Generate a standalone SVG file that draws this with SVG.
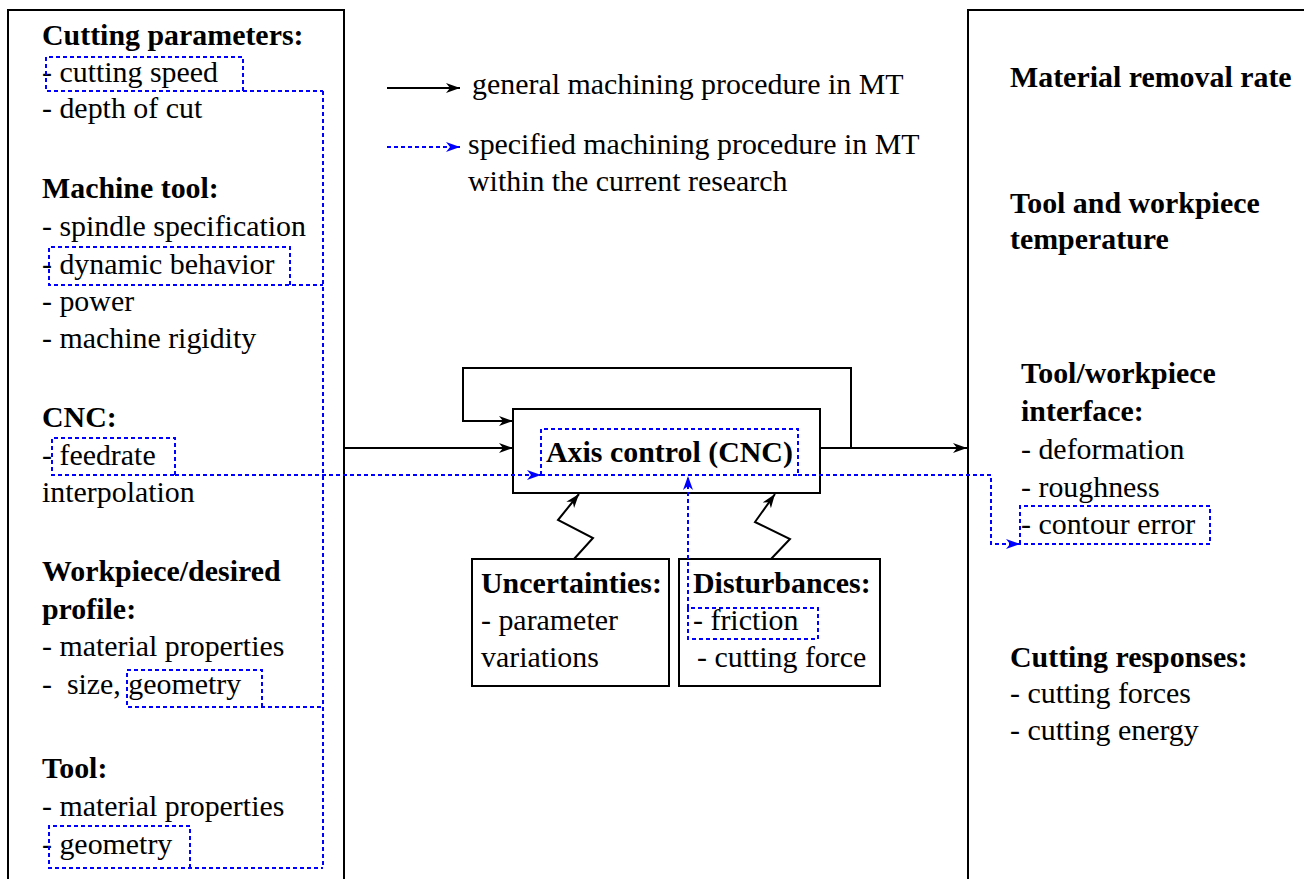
<svg xmlns="http://www.w3.org/2000/svg" width="1304" height="879" viewBox="0 0 1304 879">
<style>
text{font-family:"Liberation Serif","Times New Roman",serif;font-size:29.9px;fill:#000;white-space:pre}
.b{font-weight:bold}
.box{fill:none;stroke:#000;stroke-width:2}
.ln{fill:none;stroke:#000;stroke-width:2}
.bl{fill:none;stroke:#0000ff;stroke-width:2;stroke-dasharray:4,3}
</style>
<defs>
<marker id="ak" markerUnits="userSpaceOnUse" markerWidth="16" markerHeight="12" refX="14" refY="5" orient="auto">
<path d="M0,0 L14,5 L0,10 L4,5 z" fill="#000"/>
</marker>
<marker id="ab" markerUnits="userSpaceOnUse" markerWidth="16" markerHeight="12" refX="14" refY="5" orient="auto">
<path d="M0,0 L14,5 L0,10 L4,5 z" fill="#0000ff"/>
</marker>
</defs>
<rect width="1304" height="879" fill="#fff"/>

<g id="inputs">
<path class="box" d="M8,885 L8,10 L344,10 L344,885"/>
<text x="42" y="45" class="b">Cutting parameters:</text>
<text x="42" y="82">- cutting speed</text>
<text x="42" y="118">- depth of cut</text>
<text x="42" y="198" class="b">Machine tool:</text>
<text x="42" y="236">- spindle specification</text>
<text x="42" y="274">- dynamic behavior</text>
<text x="42" y="311">- power</text>
<text x="42" y="348">- machine rigidity</text>
<text x="42" y="427" class="b">CNC:</text>
<text x="42" y="465">- feedrate</text>
<text x="42" y="502">interpolation</text>
<text x="42" y="581" class="b">Workpiece/desired</text>
<text x="42" y="619" class="b">profile:</text>
<text x="42" y="656">- material properties</text>
<text x="42" y="694">-  size, geometry</text>
<text x="42" y="778" class="b">Tool:</text>
<text x="42" y="816">- material properties</text>
<text x="42" y="854">- geometry</text>
</g>

<g id="outputs">
<path class="box" d="M968,885 L968,10 L1310,10"/>
<text x="1010" y="87" class="b">Material removal rate</text>
<text x="1010" y="213" class="b">Tool and workpiece</text>
<text x="1010" y="249" class="b">temperature</text>
<text x="1021" y="383" class="b">Tool/workpiece</text>
<text x="1021" y="421" class="b">interface:</text>
<text x="1021" y="459">- deformation</text>
<text x="1021" y="497">- roughness</text>
<text x="1021" y="534">- contour error</text>
<text x="1010" y="667" class="b">Cutting responses:</text>
<text x="1010" y="703">- cutting forces</text>
<text x="1010" y="740">- cutting energy</text>
</g>

<g id="axis-control">
<rect class="box" x="513" y="409" width="307" height="84"/>
<text x="546" y="462" class="b">Axis control (CNC)</text>
</g>

<g id="uncertainties">
<rect class="box" x="472" y="559" width="197" height="127"/>
<text x="481" y="593" class="b">Uncertainties:</text>
<text x="481" y="630">- parameter</text>
<text x="481" y="667">variations</text>
</g>

<g id="disturbances">
<rect class="box" x="679" y="559" width="201" height="127"/>
<text x="693" y="593" class="b">Disturbances:</text>
<text x="693" y="630">- friction</text>
<text x="697" y="667">- cutting force</text>
</g>

<g id="legend">
<line class="ln" x1="387" y1="88" x2="460" y2="88" marker-end="url(#ak)"/>
<text x="472" y="94">general machining procedure in MT</text>
<line class="bl" x1="387" y1="147" x2="460" y2="147" marker-end="url(#ab)"/>
<text x="468" y="154">specified machining procedure in MT</text>
<text x="468" y="191">within the current research</text>
</g>

<g id="connectors">
<line class="ln" x1="344" y1="448" x2="513" y2="448" marker-end="url(#ak)"/>
<path class="ln" d="M851,448 L851,368 L463,368 L463,421 L513,421" marker-end="url(#ak)"/>
<line class="ln" x1="820" y1="448" x2="967" y2="448" marker-end="url(#ak)"/>
<path class="ln" d="M574,559 L593,538 L558,520 L579,494" marker-end="url(#ak)"/>
<path class="ln" d="M771,559 L790,539 L755,522 L775,494" marker-end="url(#ak)"/>

<path class="bl" d="M243,91 L243,57 L46,57 L46,91 L323,91"/>
<path class="bl" d="M290,285 L290,247 L49,247 L49,285 L323,285"/>
<path class="bl" d="M262,707 L262,670 L127,670 L127,707 L323,707"/>
<path class="bl" d="M190,868 L190,826 L49,826 L49,868 L323,868"/>
<line class="bl" x1="323" y1="91" x2="323" y2="868"/>
<path class="bl" d="M175,475 L175,438 L52,438 L52,475 L175,475"/>
<line class="bl" x1="175" y1="475" x2="541" y2="475" marker-end="url(#ab)"/>
<path class="bl" d="M541,475 L541,429 L798,429 L798,475 L541,475"/>
<path class="bl" d="M798,475 L991,475 L991,544 L1020,544" marker-end="url(#ab)"/>
<path class="bl" d="M1020,544 L1020,506 L1210,506 L1210,544 L1020,544"/>
<path class="bl" d="M818,639 L818,608 L688,608 L688,639 L818,639"/>
<line class="bl" x1="688" y1="608" x2="688" y2="476" marker-end="url(#ab)"/>
</g>
</svg>
